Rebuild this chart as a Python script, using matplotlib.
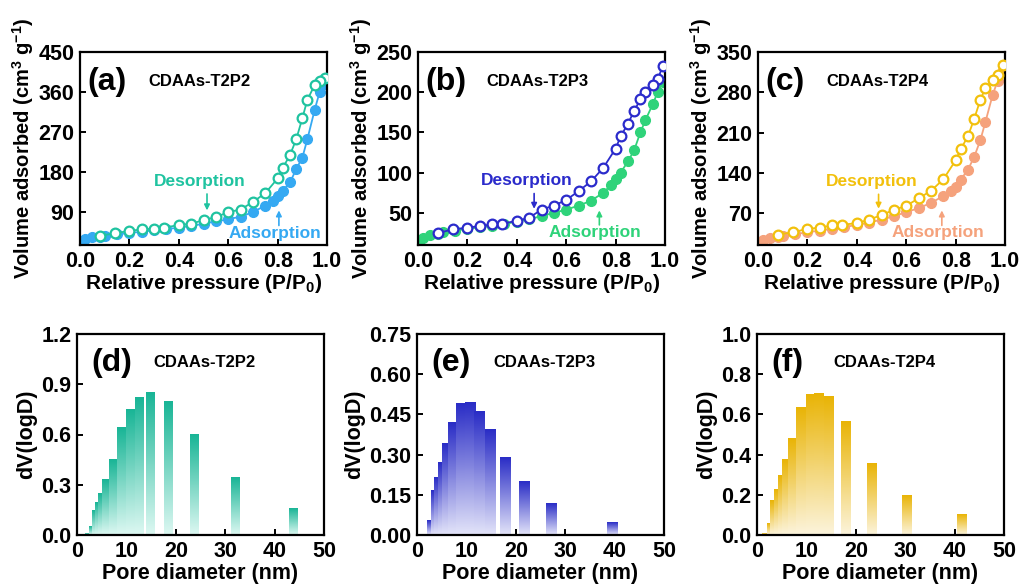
"""Recreate the N2 isotherm / pore size distribution figure (CDAAs samples)."""
import matplotlib
matplotlib.use('Agg')
import matplotlib.pyplot as plt
import numpy as np
from matplotlib.colors import LinearSegmentedColormap

plt.rcParams.update({
    'font.family': 'Liberation Sans',
    'font.weight': 'bold',
    'axes.labelweight': 'bold',
    'mathtext.fontset': 'custom',
    'mathtext.rm': 'Liberation Sans:bold',
    'mathtext.bf': 'Liberation Sans:bold',
    'mathtext.default': 'rm',
    'axes.linewidth': 1.6,
    'xtick.direction': 'in',
    'ytick.direction': 'in',
    'xtick.major.width': 1.4,
    'ytick.major.width': 1.4,
    'xtick.major.size': 4,
    'ytick.major.size': 4,
})

# ---- isotherm data (relative pressure P/P0) ----
p_ads = [0.005, 0.02, 0.05, 0.08, 0.10, 0.15, 0.20, 0.25, 0.30, 0.35, 0.40, 0.45, 0.50, 0.55,
         0.60, 0.65, 0.70, 0.75, 0.78, 0.80, 0.82, 0.85, 0.875, 0.90, 0.92, 0.95, 0.97, 0.99]
p_des = [0.99, 0.97, 0.95, 0.92, 0.90, 0.875, 0.85, 0.82, 0.80, 0.75, 0.70, 0.65, 0.60, 0.55,
         0.50, 0.45, 0.40, 0.34, 0.30, 0.25, 0.20, 0.14, 0.08]

t2p2_ads = [22, 28, 32, 34, 36, 39, 42, 45, 48, 51, 54, 58, 63, 68,
            73, 79, 89, 104, 115, 126, 137, 156, 186, 212, 253, 320, 360, 378]
t2p2_des = [392, 385, 376, 342, 301, 253, 218, 188, 165, 132, 112, 95, 89, 78,
            71, 63, 60, 54, 52, 50, 47, 41, 36]

t2p3_ads = [14, 19, 22, 24, 26, 28, 30, 32, 34, 36, 39, 42, 46, 50,
            54, 59, 65, 75, 84, 92, 100, 114, 128, 150, 165, 185, 200, 213]
t2p3_des = [232, 216, 209, 200, 191, 177, 161, 145, 130, 106, 89, 77, 66, 59,
            54, 44, 40, 36.5, 35.6, 33.6, 31.5, 29.5, 24.6]

t2p4_ads = [18, 24, 27, 29, 31, 34, 37, 40, 43, 46, 50, 54, 59, 65,
            72, 79, 88, 100, 108, 116, 128, 146, 168, 197, 228, 276, 300, 318]
t2p4_des = [327, 310, 301, 287, 267, 234, 204, 181, 162, 129, 109, 96, 83, 76,
            67, 59, 53, 50, 49, 45, 43, 37, 33]

# ---- pore size distribution data (nm, dV(logD)) ----
t2p2_d = [2.6, 3.25, 3.9, 4.5, 5.1, 5.95, 7.45, 8.95, 10.8, 12.65, 14.95, 18.5, 23.85, 32.0, 43.8]
t2p2_v = [0.01, 0.05, 0.145, 0.195, 0.245, 0.33, 0.45, 0.64, 0.75, 0.82, 0.85, 0.80, 0.60, 0.345, 0.16]

t2p3_d = [3.13, 3.9, 4.58, 5.35, 6.19, 7.37, 8.95, 10.9, 12.65, 14.84, 17.93, 21.84, 27.19, 39.5]
t2p3_v = [0.054, 0.166, 0.216, 0.272, 0.34, 0.42, 0.49, 0.496, 0.461, 0.395, 0.29, 0.20, 0.116, 0.047]

t2p4_d = [1.99, 3.03, 3.67, 4.47, 5.15, 5.92, 7.27, 8.88, 10.83, 12.48, 14.57, 18.03, 23.25, 30.32, 41.42]
t2p4_v = [0.008, 0.058, 0.174, 0.224, 0.296, 0.374, 0.482, 0.636, 0.698, 0.703, 0.69, 0.563, 0.357, 0.198, 0.10]

fig = plt.figure(figsize=(10.21, 5.86), dpi=100)
W = 0.242
tops = []
for left in (80, 418, 758):
    tops.append(fig.add_axes([left / 1021, 1 - 245 / 586, W, 193 / 586]))
bots = []
for left in (77, 417, 757):
    bots.append(fig.add_axes([left / 1021, 1 - 535 / 586, W, 201 / 586]))


def isotherm(ax, ads, des, c_ads, c_des, ylim, yticks, tag, name, des_txt, ads_txt):
    ax.plot(p_ads, ads, '-o', color=c_ads, lw=1.3, ms=7, mfc=c_ads, mec=c_ads, mew=1.0, zorder=2)
    ax.plot(p_des, des, '-o', color=c_des, lw=1.3, ms=7, mfc='white', mec=c_des, mew=1.6, zorder=3)
    ax.set_xlim(0, 1.0)
    ax.set_ylim(*ylim)
    ax.set_xticks([0, 0.2, 0.4, 0.6, 0.8, 1.0])
    ax.set_xticklabels(['0.0', '0.2', '0.4', '0.6', '0.8', '1.0'])
    ax.set_yticks(yticks)
    ax.tick_params(labelsize=15.5, pad=4)
    ax.set_xlabel('Relative pressure (P/P$_0$)', fontsize=15, labelpad=0)
    ax.set_ylabel('Volume adsorbed (cm$^3$ g$^{-1}$)', fontsize=14.5, labelpad=2)
    ax.text(0.03, 0.845, tag, transform=ax.transAxes, fontsize=23, va='center', ha='left')
    ax.text(0.278, 0.845, name, transform=ax.transAxes, fontsize=12, va='center', ha='left')
    # annotations
    x, ty, y0, y1 = des_txt
    ax.text(x, ty, 'Desorption', color=c_des, fontsize=12.5, ha='center', va='center')
    ax.annotate('', xy=(x + 0.028, y1), xytext=(x + 0.028, y0),
                arrowprops=dict(arrowstyle='-|>', color=c_des, lw=1.2, mutation_scale=8,
                                shrinkA=0, shrinkB=0))
    x, ty, y0, y1 = ads_txt
    ax.text(x, ty, 'Adsorption', color=c_ads, fontsize=12.5, ha='center', va='center')
    ax.annotate('', xy=(x + 0.016, y1), xytext=(x + 0.016, y0),
                arrowprops=dict(arrowstyle='-|>', color=c_ads, lw=1.2, mutation_scale=8,
                                shrinkA=0, shrinkB=0))


isotherm(tops[0], t2p2_ads, t2p2_des, '#35A9F2', '#1FC3A0', (15, 450), [90, 180, 270, 360, 450],
         '(a)', 'CDAAs-T2P2', (0.486, 158, 130, 93), (0.789, 41, 59, 93))
isotherm(tops[1], t2p3_ads, t2p3_des, '#2FD37A', '#2B2BCB', (10, 250), [50, 100, 150, 200, 250],
         '(b)', 'CDAAs-T2P3', (0.442, 90, 74, 55), (0.718, 26, 35, 53))
isotherm(tops[2], t2p4_ads, t2p4_des, '#F5A27C', '#F2C00C', (15, 350), [70, 140, 210, 280, 350],
         '(c)', 'CDAAs-T2P4', (0.46, 126, 103, 78), (0.728, 36, 49, 75))


def psd(ax, d, v, width, dark, light, ylim, yticks, fmt, tag, name):
    cmap = LinearSegmentedColormap.from_list('g', [light, dark])
    grad = np.linspace(0, 1, 128).reshape(-1, 1)
    for c, h in zip(d, v):
        ax.imshow(grad, extent=(c - width / 2, c + width / 2, 0, h), origin='lower',
                  cmap=cmap, aspect='auto', zorder=2, interpolation='bilinear')
    ax.set_xlim(0, 50)
    ax.set_ylim(*ylim)
    ax.set_xticks(range(0, 51, 10))
    ax.set_yticks(yticks)
    ax.set_yticklabels([fmt.format(t) for t in yticks])
    ax.tick_params(labelsize=15.5, pad=4)
    ax.set_xlabel('Pore diameter (nm)', fontsize=15.5, labelpad=1)
    ax.set_ylabel('dV(logD)', fontsize=15.5, labelpad=3)
    ax.text(0.058, 0.856, tag, transform=ax.transAxes, fontsize=23, va='center', ha='left')
    ax.text(0.31, 0.856, name, transform=ax.transAxes, fontsize=12, va='center', ha='left')


psd(bots[0], t2p2_d, t2p2_v, 1.8, '#19B596', '#DDF8F2', (0, 1.2), [0, 0.3, 0.6, 0.9, 1.2], '{:.1f}',
    '(d)', 'CDAAs-T2P2')
psd(bots[1], t2p3_d, t2p3_v, 2.2, '#2A2DC6', '#E3E4F9', (0, 0.75), [0, 0.15, 0.30, 0.45, 0.60, 0.75],
    '{:.2f}', '(e)', 'CDAAs-T2P3')
psd(bots[2], t2p4_d, t2p4_v, 1.9, '#E9B406', '#FCF4DC', (0, 1.0), [0, 0.2, 0.4, 0.6, 0.8, 1.0], '{:.1f}',
    '(f)', 'CDAAs-T2P4')

plt.savefig('out.png', dpi=100, facecolor='white')
plt.close()
